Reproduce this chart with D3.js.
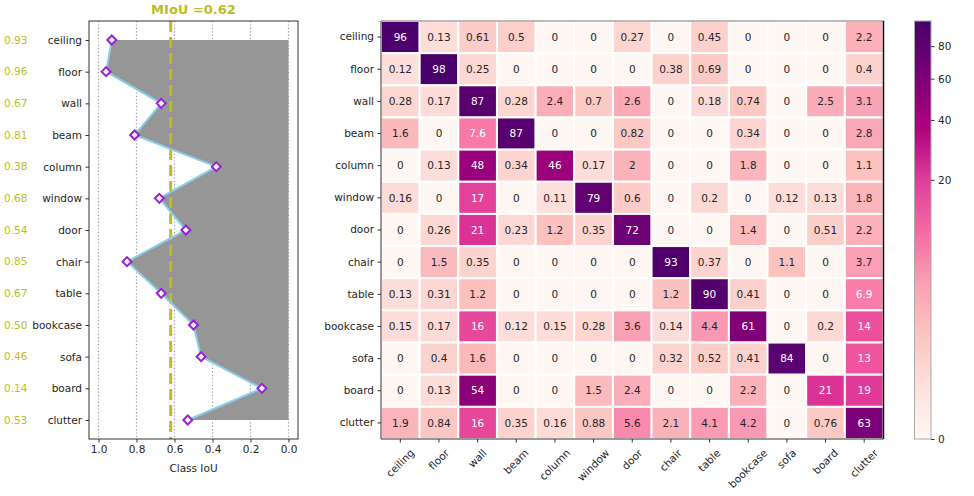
<!DOCTYPE html>
<html><head><meta charset="utf-8">
<script src="https://cdn.jsdelivr.net/npm/d3@7"></script>
<style>
body{margin:0;background:#fff;}
text{font-family:"DejaVu Sans",sans-serif;}
</style></head>
<body><svg id="c" width="974" height="496"></svg>
<script>
const classes = ["ceiling","floor","wall","beam","column","window","door","chair","table","bookcase","sofa","board","clutter"];
const iou = [0.93,0.96,0.67,0.81,0.38,0.68,0.54,0.85,0.67,0.50,0.46,0.14,0.53];
const iouLabels = ["0.93","0.96","0.67","0.81","0.38","0.68","0.54","0.85","0.67","0.50","0.46","0.14","0.53"];
const mIoU = 0.62;
const iouTicks = [1.0,0.8,0.6,0.4,0.2,0.0];
const confusion = [
 [96,0.13,0.61,0.5,0,0,0.27,0,0.45,0,0,0,2.2],
 [0.12,98,0.25,0,0,0,0,0.38,0.69,0,0,0,0.4],
 [0.28,0.17,87,0.28,2.4,0.7,2.6,0,0.18,0.74,0,2.5,3.1],
 [1.6,0,7.6,87,0,0,0.82,0,0,0.34,0,0,2.8],
 [0,0.13,48,0.34,46,0.17,2,0,0,1.8,0,0,1.1],
 [0.16,0,17,0,0.11,79,0.6,0,0.2,0,0.12,0.13,1.8],
 [0,0.26,21,0.23,1.2,0.35,72,0,0,1.4,0,0.51,2.2],
 [0,1.5,0.35,0,0,0,0,93,0.37,0,1.1,0,3.7],
 [0.13,0.31,1.2,0,0,0,0,1.2,90,0.41,0,0,6.9],
 [0.15,0.17,16,0.12,0.15,0.28,3.6,0.14,4.4,61,0,0.2,14],
 [0,0.4,1.6,0,0,0,0,0.32,0.52,0.41,84,0,13],
 [0,0.13,54,0,0,1.5,2.4,0,0,2.2,0,21,19],
 [1.9,0.84,16,0.35,0.16,0.88,5.6,2.1,4.1,4.2,0,0.76,63]
];
const cbTicks = [0,20,40,60,80];
const vmax = 98.4;

const svg = d3.select("#c");
const OLIVE = "#bcbd22", TXT = "#262626", SPINE = "#333";
const FS = "10.5px";

// ---------- Left panel ----------
const L = {x0:89, x1:298, y0:21, y1:439};
const xI = d3.scaleLinear().domain([1.05,-0.05]).range([L.x0,L.x1]);
const yI = d3.scaleLinear().domain([-0.6,12.6]).range([L.y0,L.y1]);
const gL = svg.append("g");
gL.selectAll("line.grid").data(iouTicks).join("line")
  .attr("x1",d=>xI(d)).attr("x2",d=>xI(d)).attr("y1",L.y0).attr("y2",L.y1)
  .attr("stroke","#999").attr("stroke-width",1.2).attr("stroke-dasharray","1.2,2.2");
const area = d3.area().x0(d=>xI(d)).x1(xI(0)).y((d,i)=>yI(i)).curve(d3.curveLinear);
gL.append("path").attr("d",area(iou)).attr("fill","#969696");
gL.append("line").attr("x1",xI(mIoU)).attr("x2",xI(mIoU)).attr("y1",L.y0).attr("y2",L.y1)
  .attr("stroke",OLIVE).attr("stroke-width",3).attr("stroke-dasharray","11,5");
const line = d3.line().x(d=>xI(d)).y((d,i)=>yI(i));
gL.append("path").attr("d",line(iou)).attr("fill","none").attr("stroke","#87ceeb").attr("stroke-width",2);
const dsym = d3.symbol().type(d3.symbolSquare).size(40);
gL.selectAll("path.mk").data(iou).join("path")
  .attr("d",dsym).attr("transform",(d,i)=>`translate(${xI(d)},${yI(i)}) rotate(45)`)
  .attr("fill","#fff").attr("stroke","#9b1fd6").attr("stroke-width",2);
gL.append("rect").attr("x",L.x0).attr("y",L.y0).attr("width",L.x1-L.x0).attr("height",L.y1-L.y0)
  .attr("fill","none").attr("stroke",SPINE).attr("stroke-width",1);
const yAxL = d3.axisLeft(yI).tickValues(d3.range(13)).tickFormat(i=>classes[i]).tickSize(3.5).tickPadding(3.5);
const gyL = gL.append("g").attr("transform",`translate(${L.x0},0)`).call(yAxL);
const xAxL = d3.axisBottom(xI).tickValues(iouTicks).tickFormat(d3.format(".1f")).tickSize(3.5).tickPadding(3.5);
const gxL = gL.append("g").attr("transform",`translate(0,${L.y1})`).call(xAxL);
[gyL,gxL].forEach(g=>{g.select(".domain").remove();
  g.selectAll("text").attr("fill",TXT).style("font-size",FS).style("font-family","DejaVu Sans");
  g.selectAll("line").attr("stroke",SPINE);});
gL.selectAll("text.val").data(iouLabels).join("text")
  .attr("x",4).attr("y",(d,i)=>yI(i)).attr("dy","0.35em").attr("fill",OLIVE)
  .style("font-size",FS).text(d=>d);
gL.append("text").attr("x",(L.x0+L.x1)/2).attr("y",472).attr("text-anchor","middle")
  .attr("fill",TXT).style("font-size",FS).text("Class IoU");
gL.append("text").attr("x",(L.x0+L.x1)/2).attr("y",14).attr("text-anchor","middle")
  .attr("fill",OLIVE).style("font-size","13px").style("font-weight","bold").text("MIoU =0.62");

// ---------- Heatmap ----------
const H = {x0:381, x1:883.5, y0:21, y1:439};
const xH = d3.scaleBand().domain(d3.range(13)).range([H.x0,H.x1]);
const yH = d3.scaleBand().domain(d3.range(13)).range([H.y0,H.y1]);
const rdpu = ["#fff7f3","#fde0dd","#fcc5c0","#fa9fb5","#f768a1","#dd3497","#ae017e","#7a0177","#49006a"];
const cmap = d3.scaleLinear().domain(d3.range(9).map(i=>i/8)).range(rdpu).interpolate(d3.interpolateRgb).clamp(true);
const norm = d3.scalePow().exponent(0.3).domain([0,vmax]).range([0,1]).clamp(true);
const color = v=>cmap(norm(v));
function lum(c){const r=d3.rgb(c);const f=x=>{x/=255;return x<=0.03928?x/12.92:Math.pow((x+0.055)/1.055,2.4);};
  return 0.2126*f(r.r)+0.7152*f(r.g)+0.0722*f(r.b);}
const cells = [];
confusion.forEach((row,i)=>row.forEach((v,j)=>cells.push({i,j,v})));
const gH = svg.append("g");
gH.selectAll("rect.cell").data(cells).join("rect")
  .attr("x",d=>xH(d.j)).attr("y",d=>yH(d.i)).attr("width",xH.bandwidth()).attr("height",yH.bandwidth())
  .attr("fill",d=>color(d.v)).attr("stroke","#fff").attr("stroke-width",2);
gH.selectAll("text.ann").data(cells).join("text")
  .attr("x",d=>xH(d.j)+xH.bandwidth()/2).attr("y",d=>yH(d.i)+yH.bandwidth()/2).attr("dy","0.35em")
  .attr("text-anchor","middle").style("font-size",FS)
  .attr("fill",d=>lum(color(d.v))>0.408?TXT:"#fff").text(d=>String(d.v));
gH.append("line").attr("x1",H.x0).attr("x2",H.x0).attr("y1",H.y0).attr("y2",H.y1).attr("stroke",SPINE);
gH.append("line").attr("x1",H.x0).attr("x2",H.x1).attr("y1",H.y1).attr("y2",H.y1).attr("stroke",SPINE);
gH.append("line").attr("x1",H.x0).attr("x2",H.x1).attr("y1",H.y0).attr("y2",H.y0).attr("stroke","#777");
gH.append("line").attr("x1",H.x1).attr("x2",H.x1).attr("y1",H.y0).attr("y2",H.y1).attr("stroke","#111").attr("stroke-width",1.5);
const gyH = gH.append("g").attr("transform",`translate(${H.x0},0)`)
  .call(d3.axisLeft(yH).tickFormat(i=>classes[i]).tickSize(3.5).tickPadding(3.5));
const gxH = gH.append("g").attr("transform",`translate(0,${H.y1})`)
  .call(d3.axisBottom(xH).tickFormat(i=>classes[i]).tickSize(3.5).tickPadding(3.5));
[gyH,gxH].forEach(g=>{g.select(".domain").remove();
  g.selectAll("text").attr("fill",TXT).style("font-size",FS).style("font-family","DejaVu Sans");
  g.selectAll("line").attr("stroke",SPINE);});
gxH.selectAll(".tick text").each(function(){
  const t=d3.select(this);
  const w=this.getComputedTextLength(), h=10.5;
  const side=(w+h)*Math.SQRT1_2;
  const cy=8.5+side/2;
  t.attr("x",0).attr("y",0).attr("dy","0.32em").attr("text-anchor","middle")
   .attr("transform",`translate(0,${cy}) rotate(-45)`);
});

// ---------- Colorbar ----------
const C = {x0:914.5, x1:931, y0:21, y1:439};
const yC = d3.scalePow().exponent(0.3).domain([0,vmax]).range([C.y1,C.y0]);
const steps = d3.range(0,420);
const gC = svg.append("g");
gC.selectAll("rect.cb").data(steps).join("rect")
  .attr("x",C.x0).attr("width",C.x1-C.x0)
  .attr("y",k=>C.y1-(k+1)*(C.y1-C.y0)/steps.length).attr("height",(C.y1-C.y0)/steps.length+0.6)
  .attr("fill",k=>cmap((k+0.5)/steps.length));
gC.append("rect").attr("x",C.x0).attr("y",C.y0).attr("width",C.x1-C.x0).attr("height",C.y1-C.y0)
  .attr("fill","none").attr("stroke","#aaa").attr("stroke-width",1);
const gyC = gC.append("g").attr("transform",`translate(${C.x1},0)`)
  .call(d3.axisRight(yC).tickValues(cbTicks).tickFormat(d3.format("d")).tickSize(3.5).tickPadding(3.5));
gyC.select(".domain").remove();
gyC.selectAll("text").attr("fill",TXT).style("font-size",FS).style("font-family","DejaVu Sans");
gyC.selectAll("line").attr("stroke",SPINE);
</script></body></html>
